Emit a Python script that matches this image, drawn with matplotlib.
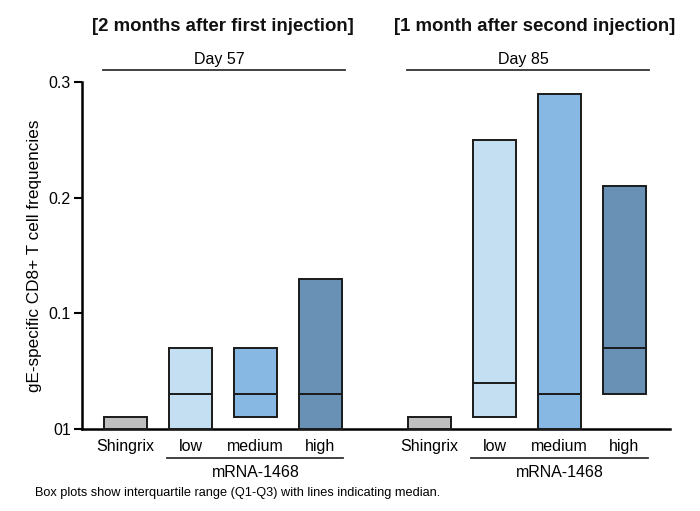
import matplotlib
matplotlib.use("Agg")
import matplotlib.pyplot as plt
import matplotlib.transforms as mtransforms
import numpy as np

plt.rcParams["font.family"] = ["Liberation Sans", "DejaVu Sans"]

# --- данные
groups = ["Shingrix", "low", "medium", "high"]
day57_q1 = [0.0, 0.0, 0.01, 0.0]
day57_med = [0.0, 0.03, 0.03, 0.03]
day57_q3 = [0.01, 0.07, 0.07, 0.13]
day85_q1 = [0.0, 0.01, 0.0, 0.03]
day85_med = [0.0, 0.04, 0.03, 0.07]
day85_q3 = [0.01, 0.25, 0.29, 0.21]
yticks = [0.0, 0.1, 0.2, 0.3]
ytick_labels = ["01", "0.1", "0.2", "0.3"]
titles = ["[2 months after first injection]", "[1 month after second injection]"]
days = ["Day 57", "Day 85"]
colors = ["#bfbfbf", "#c4dff2", "#86b8e3", "#6991b5"]

GAP = 4.68   # смещение второй группы
W = 0.65

fig = plt.figure(figsize=(7, 5.11), dpi=100)
ax = fig.add_axes([0.1171, 0.1605, 0.84, 0.679])

trans = mtransforms.blended_transform_factory(ax.transData, ax.transAxes)
x_all, lab_all = [], []
for g, (q1, med, q3) in enumerate([(day57_q1, day57_med, day57_q3),
                                   (day85_q1, day85_med, day85_q3)]):
    x = np.arange(len(groups)) + g * GAP
    q1, med, q3 = map(np.array, (q1, med, q3))
    ax.bar(x, q3 - q1, bottom=q1, width=W, color=colors, edgecolor="#1a1a1a",
           linewidth=1.4, zorder=3, clip_on=False)
    ax.hlines(med[1:], x[1:] - W / 2, x[1:] + W / 2, color="#1a1a1a", lw=1.4, zorder=4)
    x_all += list(x); lab_all += groups

    # подпись mRNA-1468 с линией
    ax.plot([x[1] - W / 2 - 0.03, x[3] + W / 2 + 0.03], [-0.084, -0.084], transform=trans,
            color="#333333", lw=1.3, clip_on=False)
    ax.text((x[1] + x[3]) / 2, -0.125, "mRNA-1468", transform=trans, ha="center",
            va="center", fontsize=11.5)
    # Day + заголовок сверху
    ax.plot([x[0] - W / 2 - 0.02, x[3] + W / 2 + 0.05], [1.035, 1.035], transform=trans,
            color="#333333", lw=1.3, clip_on=False)
    ax.text((x[0] + x[3]) / 2 - 0.05, 1.066, days[g], transform=trans, ha="center",
            va="center", fontsize=11.5)
    ax.text((x[0] + x[3]) / 2 + 0.12 * g, 1.16, titles[g], transform=trans, ha="center",
            va="center", fontsize=13.4, fontweight="bold", color="#111111")

ax.set_xlim(-0.67, 8.38)
ax.set_ylim(0, 0.3)
ax.set_xticks(x_all)
ax.set_xticklabels(lab_all, fontsize=11.5)
ax.tick_params(axis="x", length=0, pad=7)
ax.set_yticks(yticks)
ax.set_yticklabels(ytick_labels, fontsize=11.5)
ax.tick_params(axis="y", length=6, width=1.5, pad=2)
for s in ["top", "right"]:
    ax.spines[s].set_visible(False)
for s in ["left", "bottom"]:
    ax.spines[s].set_linewidth(1.8)
ax.set_ylabel("gE-specific CD8+ T cell frequencies", fontsize=12.3, labelpad=5)

fig.text(0.05, 0.035, "Box plots show interquartile range (Q1-Q3) with lines indicating median.",
         fontsize=9.2, va="center")

fig.savefig("out.png", dpi=100)
